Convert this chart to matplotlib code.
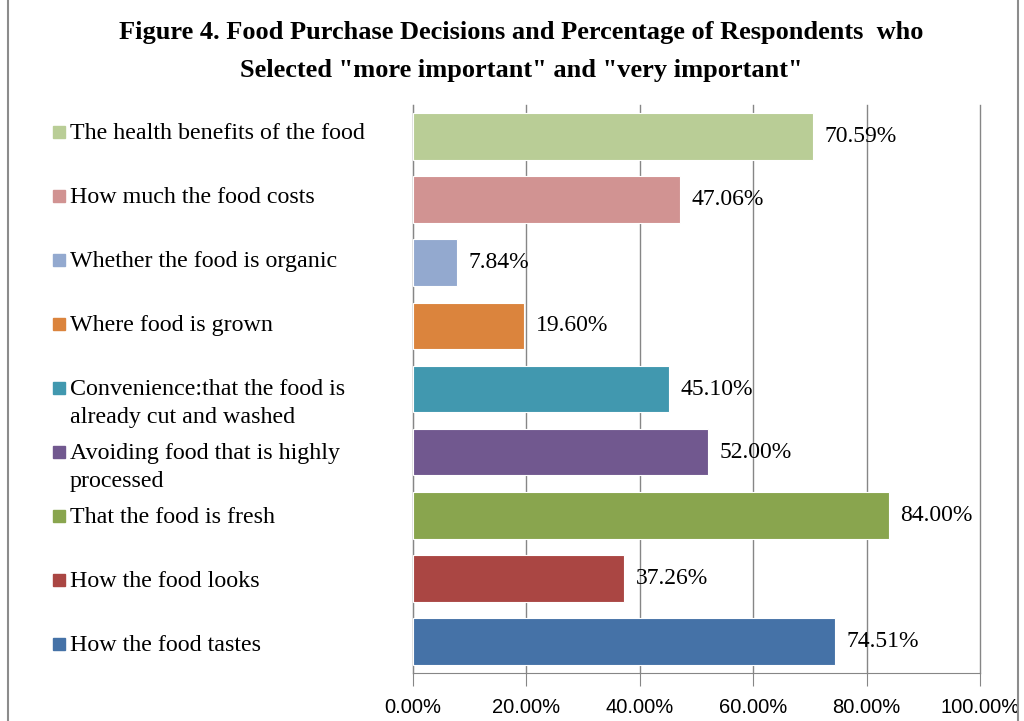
import numpy as np
import matplotlib
matplotlib.use("Agg")
import matplotlib.pyplot as plt
from matplotlib.patches import Rectangle

# data, bottom to top as drawn
categories = [
    "How the food tastes",
    "How the food looks",
    "That the food is fresh",
    "Avoiding food that is highly\nprocessed",
    "Convenience:that the food is\nalready cut and washed",
    "Where food is grown",
    "Whether the food is organic",
    "How much the food costs",
    "The health benefits of the food",
]
values = [74.51, 37.26, 84.00, 52.00, 45.10, 19.60, 7.84, 47.06, 70.59]
value_labels = ["74.51%", "37.26%", "84.00%", "52.00%", "45.10%",
                "19.60%", "7.84%", "47.06%", "70.59%"]
colors = ["#4572A7", "#AA4643", "#89A54E", "#71588F", "#4198AF",
          "#DB843D", "#93A9CF", "#D19392", "#B9CD96"]
xticks = [0, 20, 40, 60, 80, 100]
xtick_labels = ["0.00%", "20.00%", "40.00%", "60.00%", "80.00%", "100.00%"]

W, H = 1024, 721
fig = plt.figure(figsize=(W / 100, H / 100), dpi=100)
fig.patch.set_facecolor("white")

def fx(px):
    return px / W

def fy(py):
    return 1 - py / H

# chart border
fig.patches.append(Rectangle((fx(8), fy(740)), fx(1010), 740 / H - 6 / H + 0.02,
                             transform=fig.transFigure, fill=False,
                             edgecolor="#8C8C8C", linewidth=1.5))

serif = "Liberation Serif"
grid_c = "#868686"

ax = fig.add_axes([fx(413), fy(673), fx(980) - fx(413), (673 - 105) / H])
y = np.arange(len(values))
ax.barh(y, values, height=0.74, color=colors, edgecolor="white", linewidth=0.8, zorder=3)
for yi, v, lab in zip(y, values, value_labels):
    ax.text(v + 2.0, yi, lab, va="center", ha="left", fontsize=17,
            family=serif, color="black", zorder=4)

ax.set_xlim(0, 100)
ax.set_ylim(-0.5, len(values) - 0.5)
ax.set_xticks(xticks)
ax.set_xticklabels(xtick_labels, fontsize=14.5, family="Liberation Sans")
ax.set_yticks([])
for t in xticks:
    ax.axvline(t, color=grid_c, linewidth=1, zorder=0, clip_on=False)
for s in ["top", "right"]:
    ax.spines[s].set_visible(False)
ax.spines["left"].set_color(grid_c)
ax.spines["bottom"].set_color(grid_c)
ax.tick_params(axis="x", length=9, color=grid_c, pad=9)

# legend on the left, one entry per row
for i, (cat, col) in enumerate(zip(categories[::-1], colors[::-1])):
    yc = 132 + i * 64
    fig.patches.append(Rectangle((fx(53), fy(yc + 6)), fx(12), 12 / H,
                                 transform=fig.transFigure, color=col))
    for j, line in enumerate(cat.split("\n")):
        fig.text(fx(70), fy(yc + 7 + j * 28), line, ha="left", va="baseline",
                 fontsize=17.3, family=serif)

fig.text(fx(521), fy(33), "Figure 4. Food Purchase Decisions and Percentage of Respondents  who",
         ha="center", va="center", fontsize=19, fontweight="bold", family=serif)
fig.text(fx(521), fy(70), 'Selected "more important" and "very important"',
         ha="center", va="center", fontsize=19, fontweight="bold", family=serif)

fig.savefig("out.png", dpi=100)
